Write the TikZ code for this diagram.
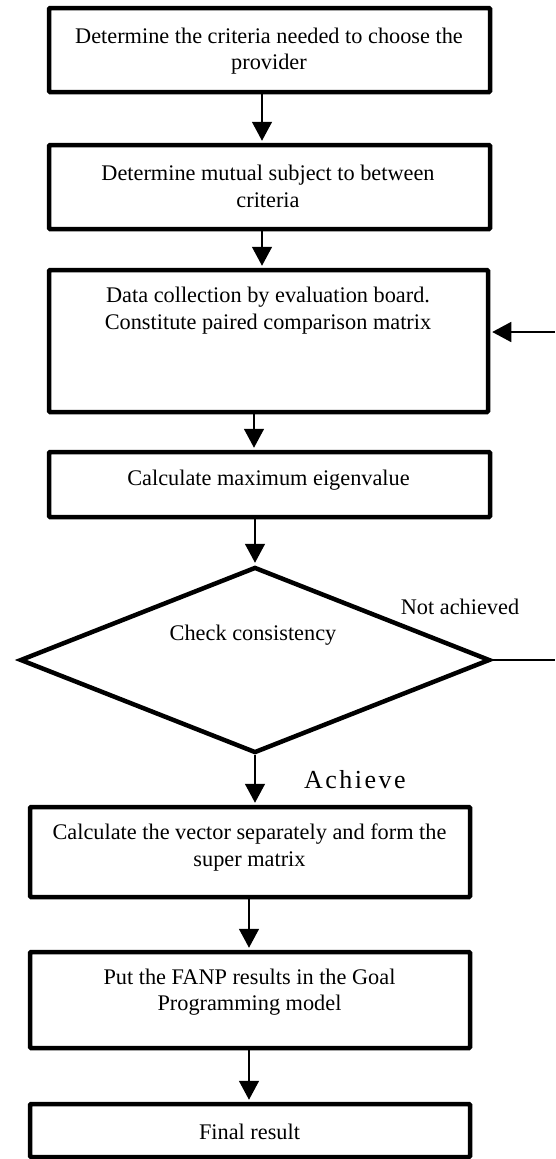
\documentclass[tikz,border=0pt]{standalone}
\usepackage{fontspec}
\setmainfont{Liberation Serif}
\usetikzlibrary{arrows.meta,shapes.geometric}
\begin{document}
\begin{tikzpicture}[x=1pt,y=-1pt,
  box/.style={draw, line width=4.5pt, rounded corners=1pt, inner sep=0pt},
  txt/.style={align=center, font=\fontsize{22.3}{26.5}\selectfont, inner sep=0pt},
  conn/.style={line width=1.5pt, -{Triangle[length=19pt,width=20pt]}, shorten >=2pt},
  plainline/.style={line width=1.5pt}]
\useasboundingbox (0,0) rectangle (555,1159);

% boxes
\node[box, minimum width=441pt, minimum height=84pt]  (b1) at (269.5,50) {};
\node[box, minimum width=441pt, minimum height=84pt]  (b2) at (269.5,187) {};
\node[box, minimum width=439pt, minimum height=142pt] (b3) at (268.5,341) {};
\node[box, minimum width=441pt, minimum height=65pt]  (b4) at (269.5,484.5) {};
\node[draw, diamond, line width=4.5pt, inner sep=0pt, minimum width=470pt, minimum height=186pt] (d) at (255,660) {};
\node[box, minimum width=440pt, minimum height=90pt]  (b5) at (250,852) {};
\node[box, minimum width=440pt, minimum height=96pt]  (b6) at (250,1000) {};
\node[box, minimum width=440pt, minimum height=53pt]  (b7) at (250,1130.5) {};

% texts
\node[txt] (t1) at (269,51) {Determine the criteria needed to choose the\\provider};
\node[txt] (t2) at (268,186.5) {Determine mutual subject to between\\criteria};
\node[txt] (t3) at (268,310.5) {Data collection by evaluation board.\\Constitute paired comparison matrix};
\node[txt] (t4) at (268.5,480) {Calculate maximum eigenvalue};
\node[txt] (td) at (253,635) {Check consistency};
\node[txt] (t5) at (249.5,847.5) {Calculate the vector separately and form the\\super matrix};
\node[txt] (t6) at (249.5,992) {Put the FANP results in the Goal\\Programming model};
\node[txt] (t7) at (249.5,1132) {Final result};
\node[txt] (na) at (460,607) {Not achieved};
\node[inner sep=0pt, font=\fontsize{26}{30}\selectfont\addfontfeature{LetterSpace=9.6}] (ac) at (355,780) {Achieve};

% connectors
\draw[conn] ([xshift=-7.5pt]b1.south) -- ([xshift=-7.5pt]b2.north);
\draw[conn] ([xshift=-7.5pt]b2.south) -- ([xshift=-6.5pt]b3.north);
\draw[conn] ([xshift=-14.5pt]b3.south) -- ([xshift=-15.5pt]b4.north);
\draw[conn] (b4.south -| d.north) -- (d.north);
\draw[conn] (d.south) -- (d.south |- b5.north);
\draw[conn] ([xshift=-1pt]b5.south) -- ([xshift=-1pt]b6.north);
\draw[conn] ([xshift=-1pt]b6.south) -- ([xshift=-1pt]b7.north);

\coordinate (fb) at (555,332);
\coordinate (ne) at (555,660);
\draw[conn] (fb) -- (fb -| b3.east);
\draw[plainline] (d.east) -- (ne);
\end{tikzpicture}
\end{document}
